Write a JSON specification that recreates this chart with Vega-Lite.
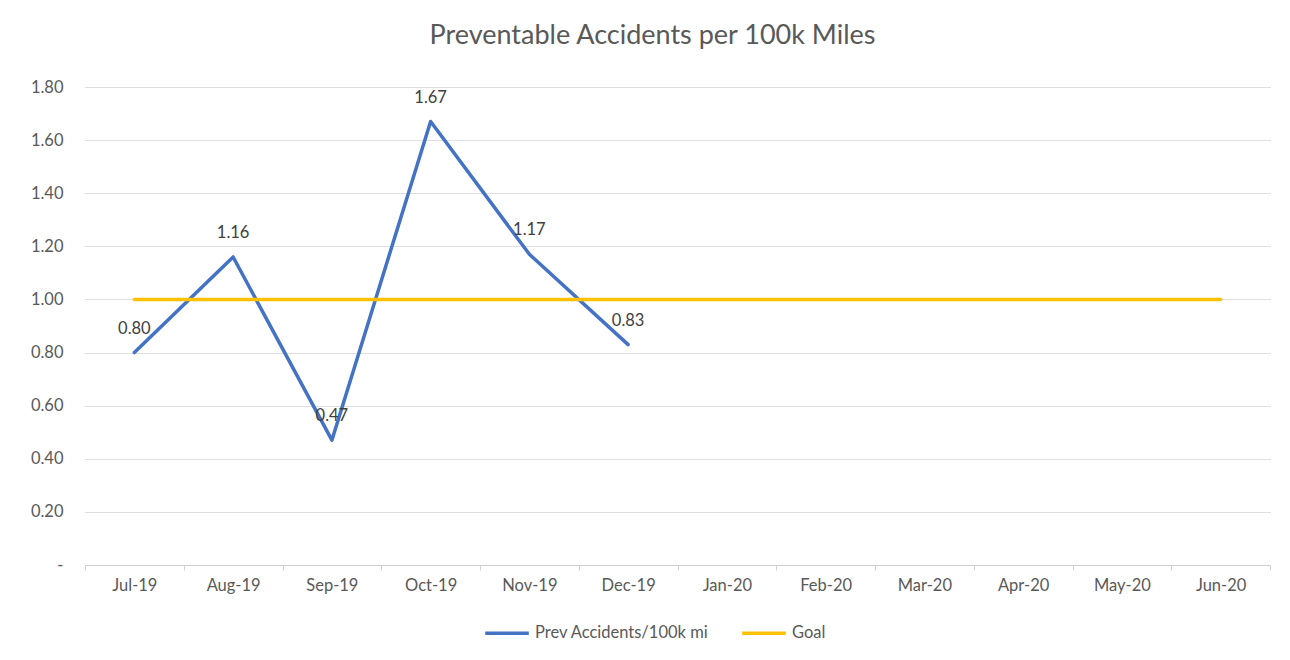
{
  "$schema": "https://vega.github.io/schema/vega-lite/v6.json",
  "width": 1185,
  "height": 478,
  "autosize": {"type": "none"},
  "padding": {"left": 85, "top": 87, "right": 20, "bottom": 95},
  "background": "white",
  "title": {
    "text": "Preventable Accidents per 100k Miles",
    "font": "Lato",
    "fontSize": 27,
    "fontWeight": "normal",
    "color": "#595959",
    "anchor": "middle",
    "frame": "group",
    "dx": -25,
    "baseline": "alphabetic",
    "offset": 8
  },
  "config": {
    "view": {"stroke": null},
    "font": "Lato"
  },
  "data": {
    "values": [
      {"month": "Jul-19", "series": "Prev Accidents/100k mi", "value": 0.80},
      {"month": "Aug-19", "series": "Prev Accidents/100k mi", "value": 1.16},
      {"month": "Sep-19", "series": "Prev Accidents/100k mi", "value": 0.47},
      {"month": "Oct-19", "series": "Prev Accidents/100k mi", "value": 1.67},
      {"month": "Nov-19", "series": "Prev Accidents/100k mi", "value": 1.17},
      {"month": "Dec-19", "series": "Prev Accidents/100k mi", "value": 0.83},
      {"month": "Jul-19", "series": "Goal", "value": 1.0},
      {"month": "Aug-19", "series": "Goal", "value": 1.0},
      {"month": "Sep-19", "series": "Goal", "value": 1.0},
      {"month": "Oct-19", "series": "Goal", "value": 1.0},
      {"month": "Nov-19", "series": "Goal", "value": 1.0},
      {"month": "Dec-19", "series": "Goal", "value": 1.0},
      {"month": "Jan-20", "series": "Goal", "value": 1.0},
      {"month": "Feb-20", "series": "Goal", "value": 1.0},
      {"month": "Mar-20", "series": "Goal", "value": 1.0},
      {"month": "Apr-20", "series": "Goal", "value": 1.0},
      {"month": "May-20", "series": "Goal", "value": 1.0},
      {"month": "Jun-20", "series": "Goal", "value": 1.0}
    ]
  },
  "encoding": {
    "x": {
      "field": "month",
      "type": "ordinal",
      "sort": ["Jul-19","Aug-19","Sep-19","Oct-19","Nov-19","Dec-19","Jan-20","Feb-20","Mar-20","Apr-20","May-20","Jun-20"],
      "scale": {"type": "band", "paddingInner": 0, "paddingOuter": 0},
      "axis": {
        "title": null,
        "labelAngle": 0,
        "labelFont": "Lato",
        "labelFontSize": 16.5,
        "labelColor": "#595959",
        "labelPadding": 7,
        "tickBand": "extent",
        "tickColor": "#d0d0d0",
        "tickSize": 5,
        "domainColor": "#d0d0d0",
        "domainWidth": 1,
        "grid": false
      }
    },
    "y": {
      "field": "value",
      "type": "quantitative",
      "scale": {"domain": [0, 1.8], "nice": false},
      "axis": {
        "title": null,
        "values": [0, 0.2, 0.4, 0.6, 0.8, 1.0, 1.2, 1.4, 1.6, 1.8],
        "labelExpr": "datum.value == 0 ? '-\u00a0\u00a0\u00a0\u00a0' : format(datum.value, '.2f')",
        "labelFont": "Lato",
        "labelFontSize": 16.5,
        "labelColor": "#595959",
        "labelPadding": 22,
        "domain": false,
        "ticks": false,
        "grid": true,
        "gridColor": "#bfbfbf",
        "gridDash": [1, 1],
        "gridWidth": 1
      }
    }
  },
  "layer": [
    {
      "mark": {"type": "line", "strokeWidth": 3.5, "strokeCap": "round", "strokeJoin": "round"},
      "encoding": {
        "color": {
          "field": "series",
          "type": "nominal",
          "scale": {"domain": ["Prev Accidents/100k mi", "Goal"], "range": ["#4472C4", "#FFC000"]},
          "legend": {
            "title": null,
            "orient": "none",
            "direction": "horizontal",
            "legendX": 398,
            "legendY": 522,
            "symbolType": "stroke",
            "symbolSize": 1900,
            "symbolStrokeWidth": 3.5,
            "labelFont": "Lato",
            "labelFontSize": 16.5,
            "labelColor": "#595959",
            "labelOffset": 4,
            "labelLimit": 400,
            "columnPadding": 26
          }
        }
      }
    },
    {
      "transform": [{"filter": "datum.series == 'Prev Accidents/100k mi'"}],
      "mark": {"type": "text", "dy": -24, "font": "Lato", "fontSize": 16.5, "color": "#404040"},
      "encoding": {
        "text": {"field": "value", "type": "quantitative", "format": ".2f"}
      }
    }
  ]
}
